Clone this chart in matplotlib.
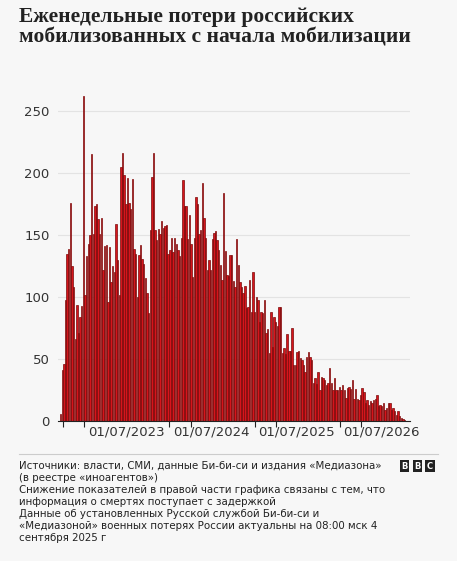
import matplotlib.pyplot as plt
import pandas as pd

# weekly deaths of mobilised soldiers
deaths = [6, 41, 46, 98, 135, 139, 176, 125, 108, 66, 94, 71, 84, 93, 262, 102,
          133, 143, 150, 215, 151, 173, 175, 163, 151, 164, 122, 141, 142, 96,
          140, 112, 125,
          120, 159, 130, 102, 205, 216, 198, 175, 196, 176, 171, 195, 139, 135,
          100, 134, 142, 131, 127, 115, 103, 87, 154, 197, 216, 154, 146, 155,
          151, 161, 156, 157, 158, 135, 138, 148,
          136, 148, 143, 138, 133, 148, 194, 173, 173, 147, 166, 143, 116, 148,
          181, 175, 151, 154, 192, 164, 148, 122, 130, 122, 147, 152, 153, 146,
          138, 126, 114, 184, 137, 118, 117, 134,
          134, 113, 108, 147, 126, 112, 108, 103, 109, 91, 92, 114, 88, 120, 88,
          100, 98, 80, 88, 87, 98, 71, 74, 55, 88, 60, 84, 80, 77, 92, 92, 55,
          59, 54, 70, 57,
          57, 75, 45, 45, 56, 57, 51, 49, 45, 40, 52, 56, 52, 49, 31, 35, 30,
          40, 25, 36, 35, 33, 29, 31, 43, 31, 25, 35, 25, 25, 28, 25, 29, 25,
          19, 27,
          28, 26, 33, 18, 26, 18, 17, 21, 27, 24, 15, 17, 13, 16, 15, 17, 18,
          21, 12, 13, 12, 15, 9, 11, 15, 15, 9, 11, 8, 5, 8, 4, 3, 2, 1]
start_date = "2022-09-21"
weeks = pd.date_range(start_date, periods=len(deaths), freq="7D")

title = "Еженедельные потери российских\nмобилизованных с начала мобилизации"
yticks = [0, 50, 100, 150, 200, 250]
xtick_labels = ["01/07/2023", "01/07/2024", "01/07/2025", "01/07/2026"]
xtick_label_dates = ["2023-07-01", "2024-07-01", "2025-07-01", "2026-07-01"]
tick_marks = ["2022-10-01", "2023-01-01", "2024-01-01", "2024-04-01",
              "2025-01-01", "2025-04-01", "2026-01-01", "2026-04-01"]
footer = ("Источники: власти, СМИ, данные Би-би-си и издания «Медиазона»\n"
          "(в реестре «иноагентов»)\n"
          "Снижение показателей в правой части графика связаны с тем, что\n"
          "информация о смертях поступает с задержкой\n"
          "Данные об установленных Русской службой Би-би-си и\n"
          "«Медиазоной» военных потерях России актуальны на 08:00 мск 4\n"
          "сентября 2025 г")

bg = "#f7f7f7"
fig = plt.figure(figsize=(4.57, 5.61), dpi=100, facecolor=bg)
ax = fig.add_axes([0.127, 0.249, 0.77, 0.58], facecolor=bg)

ax.bar(weeks, deaths, width=6, color="#d6151c", edgecolor="#7a0a0a", linewidth=0.5)

ax.set_ylim(0, 262)
ax.set_yticks(yticks)
ax.set_xlim(pd.Timestamp("2022-09-10"), pd.Timestamp("2026-10-30"))
ax.yaxis.grid(True, color="#e3e3e3", linewidth=0.8)
ax.set_axisbelow(True)
for s in ["top", "right", "left"]:
    ax.spines[s].set_visible(False)
ax.spines["bottom"].set_color("#222222")
ax.tick_params(axis="y", length=0, labelsize=9.5, colors="#333333", pad=6)

ax.set_xticks(pd.to_datetime(tick_marks))
ax.set_xticklabels([])
ax.tick_params(axis="x", which="major", length=4, color="#222222")
ax.set_xticks(pd.to_datetime(xtick_label_dates), minor=True)
ax.set_xticklabels(xtick_labels, minor=True)
ax.tick_params(axis="x", which="minor", length=0, labelsize=9.5, colors="#333333", pad=3)

fig.text(0.042, 0.988, title, ha="left", va="top", fontsize=15.5, fontweight="bold",
         family="Liberation Serif", color="#222222", linespacing=1.05)

fig.add_artist(plt.Line2D([0.042, 0.958], [0.19, 0.19], color="#cccccc", lw=0.8))
fig.text(0.042, 0.178, footer, ha="left", va="top", fontsize=7.4, color="#222222",
         linespacing=1.25)

for i, letter in enumerate("BBC"):
    fig.text(0.885 + i * 0.028, 0.169, letter, ha="center", va="center", fontsize=6,
             fontweight="bold", color="white",
             bbox=dict(boxstyle="square,pad=0.18", fc="#222222", ec="none"))

fig.savefig("out.png", dpi=100, facecolor=bg)
